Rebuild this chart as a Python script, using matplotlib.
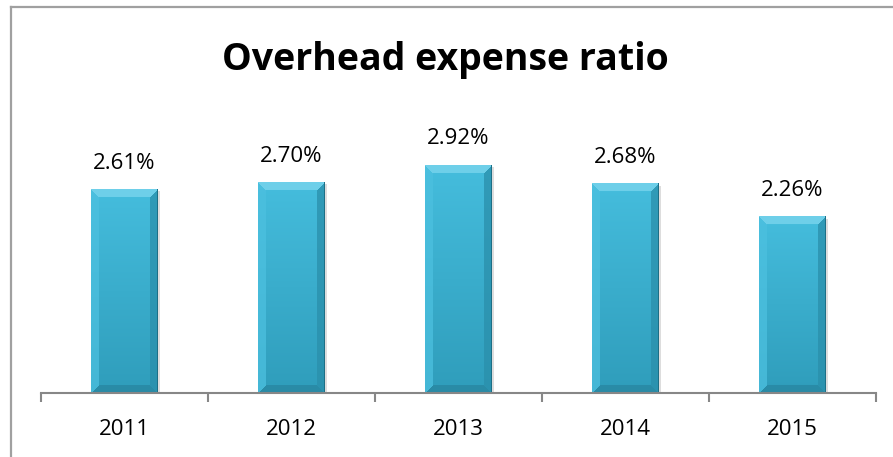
import numpy as np
import matplotlib
matplotlib.use("Agg")
import matplotlib.pyplot as plt
from matplotlib.lines import Line2D
from matplotlib.patches import Rectangle
from matplotlib.colors import to_rgb

# Chart data
years = ["2011", "2012", "2013", "2014", "2015"]
ratios = [2.61, 2.70, 2.92, 2.68, 2.26]
title = "Overhead expense ratio"

W, H, DPI = 893, 457, 100
FONT = "Open Sans"

fig = plt.figure(figsize=(W / DPI, H / DPI), dpi=DPI)
fig.patch.set_facecolor("white")

# frame lines along the top and left edge of the chart area
fig.add_artist(Line2D([11 / W, 1.0], [1 - 7 / H, 1 - 7 / H], transform=fig.transFigure,
                      color="#a0a0a0", lw=1.6))
fig.add_artist(Line2D([11 / W, 11 / W], [0.0, 1 - 7 / H], transform=fig.transFigure,
                      color="#a0a0a0", lw=1.6))

ax_w_px, ax_h_px = 835, 273
ax = fig.add_axes([41 / W, 64 / H, ax_w_px / W, ax_h_px / H])
ax.set_facecolor("none")
n = len(years)
x = np.arange(n)
ymax = 3.5
ax.set_xlim(-0.5, n - 0.5)
ax.set_ylim(0, ymax)

bar_w = 0.4
bars = ax.bar(x, ratios, width=bar_w, color="none", edgecolor="none")


def bevel_image(pw, ph, b=8):
    """RGB image of a bevelled bar face, pw x ph pixels."""
    pw, ph = int(round(pw)), int(round(ph))
    xs = np.arange(pw) + 0.5
    ys = np.arange(ph) + 0.5
    X, Y = np.meshgrid(xs, ys)
    dl, dr, dt, db = X, pw - X, Y, ph - Y
    d = np.stack([dt, dl, dr, db])
    idx = np.argmin(d, axis=0)
    m = np.min(d, axis=0)

    top_face = np.array(to_rgb("#45bddd"))
    bot_face = np.array(to_rgb("#2f9dbb"))
    t = (Y / ph)[..., None]
    img = top_face * (1 - t) + bot_face * t

    shades = {
        0: np.array(to_rgb("#7cd6ee")),  # top bevel
        1: np.array(to_rgb("#4cc0df")),  # left bevel
        2: np.array(to_rgb("#2a8fab")),  # right bevel
        3: np.array(to_rgb("#2785a0")),  # bottom bevel
    }
    for k, c in shades.items():
        mask = (m < b) & (idx == k)
        img[mask] = c * 0.75 + img[mask] * 0.25
    # dark outline on right and bottom edges
    edge = np.array(to_rgb("#1d6f86"))
    img[(dr < 1.5)] = edge
    img[(db < 1.2)] = edge
    return img


for bar, val in zip(bars, ratios):
    x0 = bar.get_x()
    w = bar.get_width()
    pw = w * ax_w_px / n
    ph = val * ax_h_px / ymax
    # soft shadow
    ax.add_patch(Rectangle((x0 + 2.5 * n / ax_w_px, 0), w, val - 2 * ymax / ax_h_px,
                           facecolor="#7a7a7a", alpha=0.25, edgecolor="none", zorder=1.5))
    ax.imshow(bevel_image(pw, ph), extent=(x0, x0 + w, 0, val), aspect="auto",
              interpolation="bilinear", zorder=2)
    ax.annotate(f"{val:.2f}%", (bar.get_x() + w / 2, val), xytext=(0, 19),
                textcoords="offset points", ha="center", va="center",
                fontsize=16, family=FONT, color="#000000")

ax.set_xlim(-0.5, n - 0.5)
ax.set_ylim(0, ymax)

for s in ("left", "top", "right"):
    ax.spines[s].set_visible(False)
ax.spines["bottom"].set_color("#878787")
ax.spines["bottom"].set_linewidth(1.5)
ax.spines["bottom"].set_zorder(3)
ax.set_yticks([])

# boundary ticks between categories, labels at category centres
ax.set_xticks(np.arange(-0.5, n, 1.0))
ax.set_xticklabels([])
ax.tick_params(axis="x", which="major", length=6.5, width=1.5, color="#878787", direction="out")
ax.set_xticks(x, minor=True)
ax.set_xticklabels(years, minor=True, fontsize=16, family=FONT)
ax.tick_params(axis="x", which="minor", length=0, pad=19)

fig.text(445 / W, 1 - 60 / H, title, ha="center", va="center", fontsize=27,
         fontweight="bold", family=FONT, color="#000000")

fig.savefig("out.png", dpi=DPI, facecolor="white")
